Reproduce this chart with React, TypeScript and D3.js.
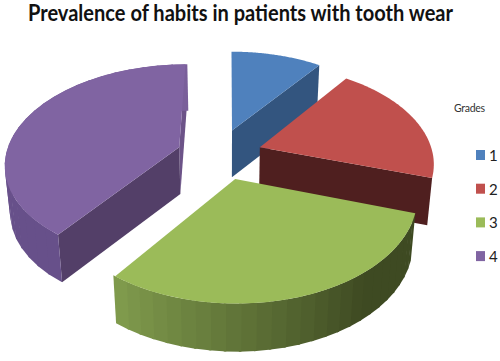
import React from "react";
import * as d3 from "d3";

const title = "Prevalence of habits in patients with tooth wear";
const legendTitle = "Grades";
const grades = ["1", "2", "3", "4"];
const values = [10, 20, 30, 40];
const topColors = ["#4f81bd", "#c0504d", "#9bbb59", "#8064a2"];
const cutColors = ["#33557f", "#4f1f1f", "#3f4a22", "#533f68"];
const wallFrom = ["#4f81bd", "#c0504d", "#3e4a22", "#67508a"];
const wallTo = ["#33557f", "#4f1f1f", "#7f9a4c", "#7a5f9a"];

const W = 500, H = 361;
const cx = 228, cy = 150, rx = 172, ry = 96, k = 0.15, depth = 47, shrink = 0.976;
// how far each slice is pulled out of the pie, on the disc plane
const pullU = [0.024, 0.186, 0.04, -0.285];
const pullV = [-0.21, -0.03, 0.29, -0.03];

const project = (u: number, v: number, bottom = false): [number, number] => {
  const s = 1 / (1 - k * v);
  const x = cx + rx * u * s;
  const y = cy + ry * v * s;
  return bottom ? [cx + (x - cx) * shrink, y + depth * (0.9 + 0.1 * s)] : [x, y];
};

const line = d3.line<[number, number]>();
const arcs = d3.pie<number>().sort(null).startAngle(0).endAngle(2 * Math.PI)(values);

const sliceGeom = (i: number) => {
  const a = arcs[i];
  const ou = pullU[i];
  const ov = pullV[i];
  const at = (t: number, bottom = false) => project(ou + Math.sin(t), ov - Math.cos(t), bottom);
  const apex = (bottom = false) => project(ou, ov, bottom);
  return { a, at, apex };
};

const ts = (a: number, b: number, n: number) => d3.range(n + 1).map((j) => a + ((b - a) * j) / n);

export default function App() {
  const s = [0, 1, 2, 3].map(sliceGeom);
  const order = [0, 1, 3, 2];
  return (
    <svg width={W} height={H} style={{ position: "absolute", left: 0, top: 0, background: "#fff" }}>
      <text x={28} y={21} fontFamily="Lato, sans-serif" fontWeight={700} fontSize={22}
        textLength={425} lengthAdjust="spacingAndGlyphs" fill="#111">{title}</text>
      {order.map((i) => {
        const g = s[i];
        const { startAngle: a0, endAngle: a1 } = g.a;
        const facets = 26;
        const steps = ts(a0, a1, facets);
        const wall = d3.range(facets).filter((j) => {
          const m = (steps[j] + steps[j + 1]) / 2;
          return Math.cos(m) < 0.05 || m > 1.5 * Math.PI;
        });
        const color = d3.interpolateRgb(wallFrom[i], wallTo[i]);
        const quad = (t: number) => [g.apex(), g.at(t), g.at(t, true), g.apex(true)] as [number, number][];
        return (
          <g key={i}>
            {i === 3 && <path d={line(quad(a1))!} fill={d3.interpolateRgb(topColors[3], cutColors[3])(0.45)} />}
            {(i === 0 || i === 1) && <path d={line(quad(a1))!} fill={cutColors[i]} />}
            {i === 3 && <path d={line(quad(a0))!} fill={cutColors[3]} />}
            {i >= 2 && wall.map((j) => {
              const e = steps[j + 1] + 0.012;
              const p = [g.at(steps[j]), g.at(e), g.at(e, true), g.at(steps[j], true)];
              return <path key={j} d={line(p as [number, number][])!} fill={color(Math.max(0, (j / (facets - 1) - 0.3) / 0.7))} />;
            })}
            <path d={line([g.apex(), ...ts(a0, a1, 80).map((t) => g.at(t))])! + "Z"} fill={topColors[i]} />
          </g>
        );
      })}
      <text x={454} y={112} fontFamily="Lato, sans-serif" fontSize={10.5} textLength={31} lengthAdjust="spacing" fill="#333">{legendTitle}</text>
      {grades.map((d, i) => (
        <g key={d}>
          <rect x={476} y={150 + i * 33.7} width={9} height={10} fill={topColors[i]} />
          <text x={489} y={161 + i * 33.7} fontFamily="Lato, sans-serif" fontSize={15} fill="#222">{d}</text>
        </g>
      ))}
    </svg>
  );
}
